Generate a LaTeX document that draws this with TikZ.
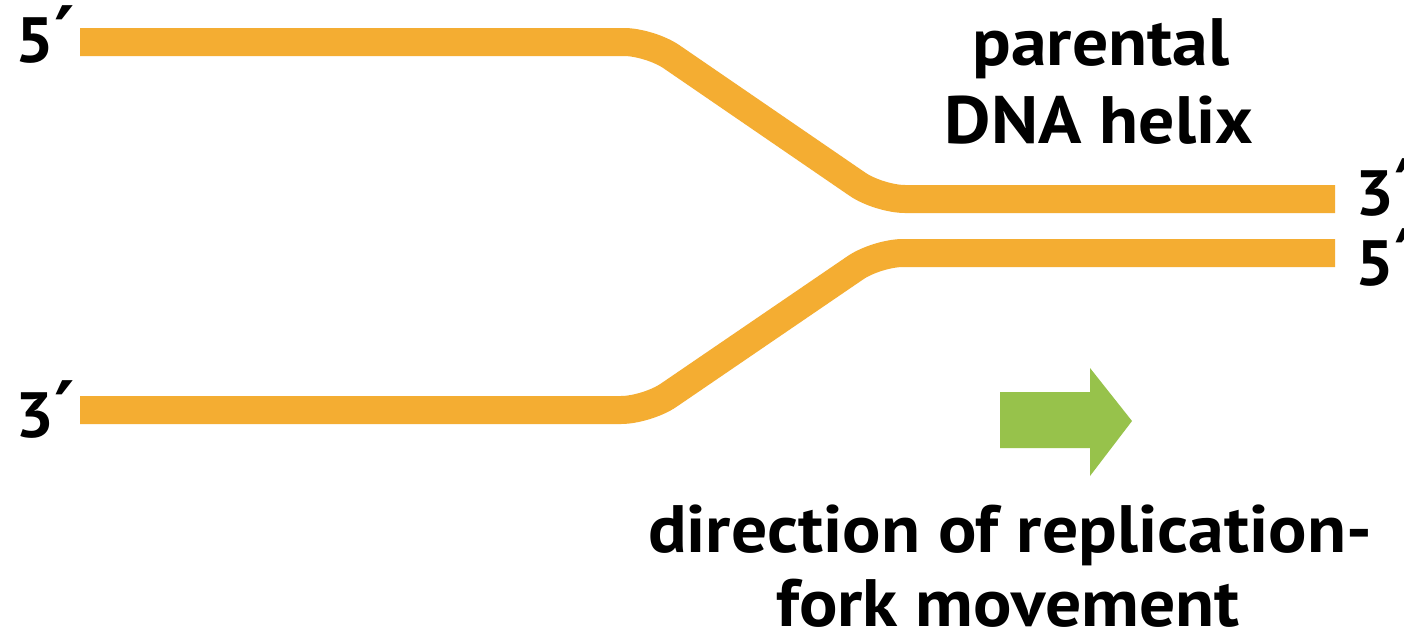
\documentclass[tikz,border=0pt]{standalone}
\usepackage{fontspec}
\setmainfont{PT Sans}[FakeStretch=1.07]
\newfontfamily\primefont{DejaVu Sans}
\newcommand{\pr}{{\primefont\bfseries\fontsize{78}{80}\selectfont ′}}
\definecolor{dna}{HTML}{F4AD32}
\definecolor{arrowgreen}{HTML}{97C24B}
\begin{document}
\begin{tikzpicture}[x=1pt,y=-1pt,
  strand/.style={draw=dna,line width=28pt,rounded corners=26pt},
  endlbl/.style={font=\fontsize{64}{70}\selectfont\bfseries, inner sep=0pt, anchor=base west},
  caption/.style={font=\fontsize{67}{76}\selectfont\bfseries, inner sep=0pt, anchor=base}]
\useasboundingbox[fill=white] (0,0) rectangle (1404,637);
% strands
\coordinate (tA) at (80,42);
\coordinate (tB) at (650,42);
\coordinate (tC) at (879,199);
\coordinate (tD) at (1335,199);
\coordinate (bA) at (80,410);
\coordinate (bB) at (647,410);
\coordinate (bC) at (877,253);
\coordinate (bD) at (1335,253);
\draw[strand] (tA) -- (tB) -- (tC) -- (tD);
\draw[strand] (bA) -- (bB) -- (bC) -- (bD);
% end labels
\node[endlbl] (l5) at (15,62) {5\kern0pt\pr};
\node[endlbl] (l3) at (15,437) {3\kern0pt\pr};
\node[endlbl] (r3) at (1355,215) {3\kern0pt\pr};
\node[endlbl] (r5) at (1355,285) {5\kern0pt\pr};
% arrow
\fill[arrowgreen] (1000,392) -- (1090,392) -- (1090,368) -- (1132,421) -- (1090,476) -- (1090,448) -- (1000,448) -- cycle;
% captions
\node[caption] (p1) at (1101,65) {parental};
\node[caption] (p2) at (1099,143) {DNA helix};
\node[caption] (d1) at (1010,552) {direction of replication-};
\node[caption] (d2) at (1008,626) {fork movement};
\end{tikzpicture}
\end{document}
